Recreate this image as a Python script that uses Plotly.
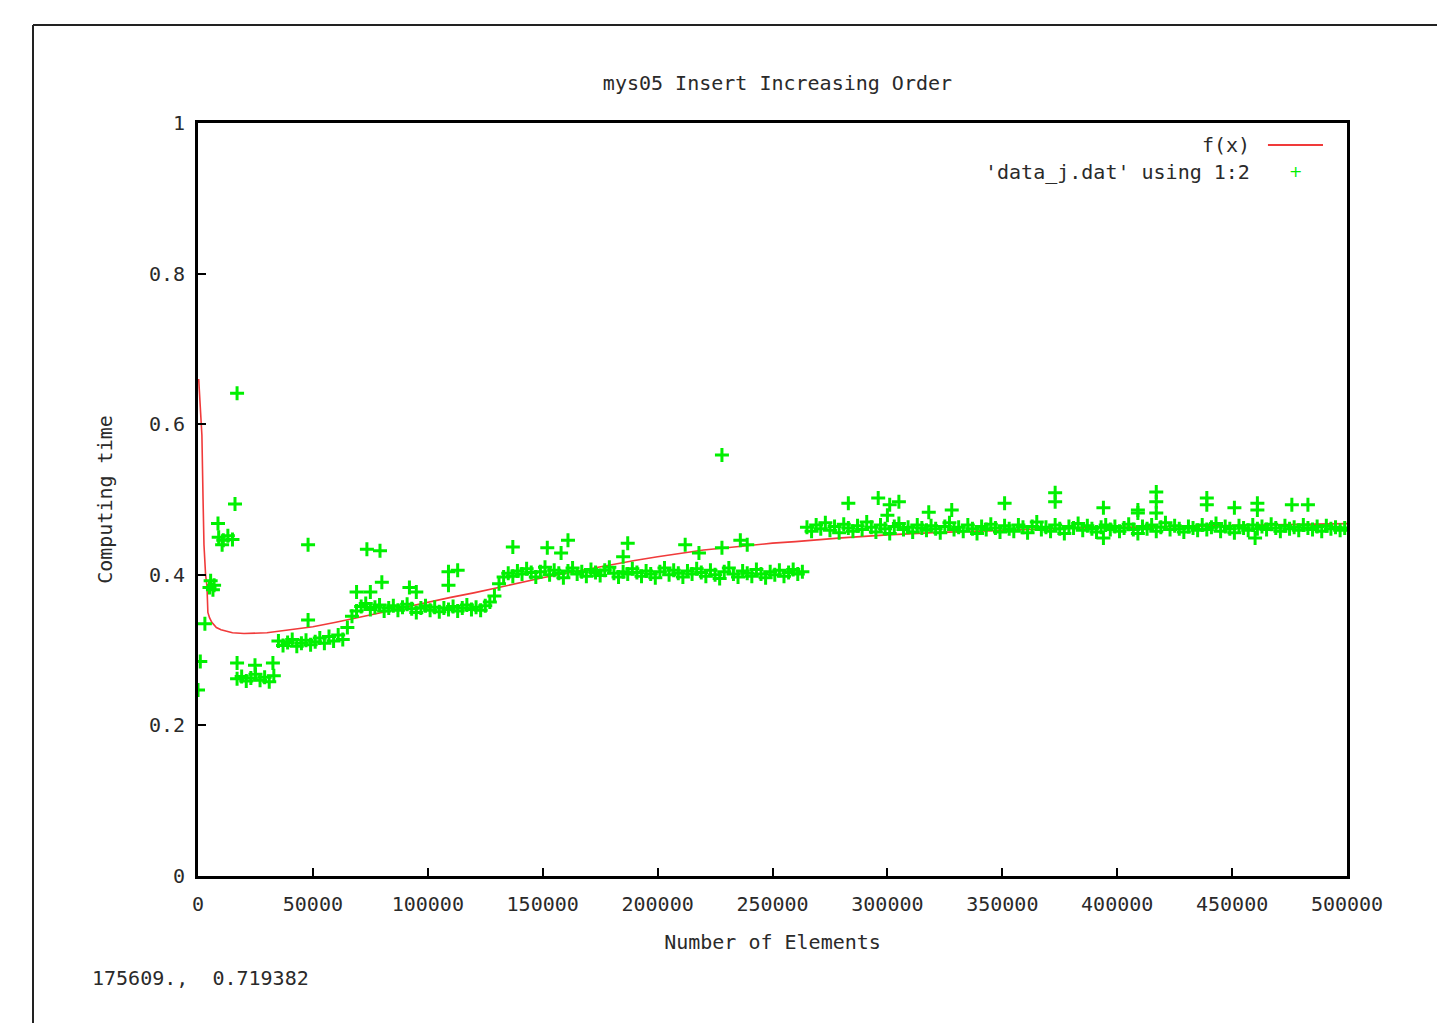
import plotly.graph_objects as go

# ---------------- data ----------------
# fitted curve f(x)
fx_x = [300, 900, 1700, 2200, 2600, 3300, 3900, 4300, 5000, 6000, 8000, 10000, 15000, 20000,
        30000, 40000, 50000, 60000, 70000, 80000, 90000, 100000, 110000, 120000, 130000,
        140000, 150000, 160000, 170000, 180000, 190000, 200000, 210000, 220000, 230000,
        240000, 250000, 260000, 280000, 300000, 320000, 340000, 360000, 380000, 400000,
        420000, 440000, 460000, 480000, 500000]
fx_y = [0.66, 0.62, 0.585, 0.50, 0.44, 0.40, 0.385, 0.350, 0.343, 0.337, 0.330, 0.327, 0.323, 0.322,
        0.323, 0.327, 0.331, 0.337, 0.343, 0.350, 0.357, 0.364, 0.370, 0.376, 0.383,
        0.389, 0.396, 0.402, 0.408, 0.414, 0.419, 0.424, 0.429, 0.433, 0.436,
        0.439, 0.442, 0.444, 0.449, 0.453, 0.456, 0.458, 0.460, 0.462, 0.463,
        0.464, 0.465, 0.466, 0.467, 0.468]

# measured computing times, one every 2000 elements starting at 1000
x_start = 1000
x_step = 2000
times = [
    0.285, 0.335, 0.383,
    0.386,
    0.450, 0.446, 0.452, 0.447,
    0.262, 0.265, 0.259, 0.263, 0.268, 0.260, 0.264, 0.258, 0.266,
    0.312, 0.306, 0.310, 0.314, 0.305, 0.309, 0.313, 0.307, 0.311, 0.316, 0.309, 0.318, 0.312, 0.320, 0.314,
    0.330, 0.345, 0.352,
    0.358, 0.362, 0.354, 0.357, 0.360, 0.352, 0.356, 0.359, 0.353, 0.357,
    0.361, 0.355, 0.350, 0.356, 0.359, 0.353, 0.357, 0.351, 0.356, 0.354,
    0.358, 0.352, 0.356, 0.360, 0.354, 0.357, 0.353, 0.359, 0.364,
    0.372, 0.388, 0.397,
    0.402, 0.398, 0.405, 0.401, 0.408, 0.403, 0.397, 0.404, 0.410, 0.400,
    0.406, 0.402, 0.396, 0.405, 0.409, 0.401, 0.404, 0.398, 0.407, 0.403,
    0.399, 0.406, 0.410, 0.402, 0.397, 0.404, 0.401, 0.408, 0.403, 0.398,
    0.405, 0.401, 0.396, 0.404, 0.409, 0.400, 0.406, 0.402, 0.397, 0.405,
    0.401, 0.408, 0.403, 0.398, 0.406, 0.400, 0.395, 0.404, 0.409, 0.401,
    0.397, 0.405, 0.402, 0.398, 0.407, 0.401, 0.396, 0.404, 0.400, 0.406,
    0.398, 0.403, 0.407, 0.401, 0.404,
    0.463, 0.458, 0.466, 0.461, 0.469, 0.459, 0.464, 0.456, 0.467, 0.462,
    0.458, 0.465, 0.460, 0.470, 0.463, 0.457, 0.466, 0.461, 0.455, 0.464,
    0.468, 0.460, 0.463, 0.457, 0.466, 0.462, 0.459, 0.465, 0.461, 0.456,
    0.464, 0.469, 0.460, 0.463, 0.458, 0.466, 0.461, 0.455, 0.464, 0.460,
    0.467, 0.462, 0.457, 0.465, 0.461, 0.458, 0.466, 0.463, 0.456, 0.464,
    0.470, 0.460, 0.463, 0.458, 0.466, 0.461, 0.455, 0.464, 0.462, 0.468,
    0.459, 0.465, 0.461, 0.457, 0.463, 0.466, 0.460, 0.464, 0.458, 0.462,
    0.467, 0.460, 0.455, 0.464, 0.461, 0.466, 0.458, 0.463, 0.469, 0.460,
    0.465, 0.461, 0.457, 0.464, 0.462, 0.459, 0.466, 0.460, 0.463, 0.468,
    0.458, 0.464, 0.461, 0.456, 0.465, 0.462, 0.459, 0.466, 0.461, 0.464,
    0.460, 0.467, 0.462, 0.458, 0.465, 0.461, 0.463, 0.459, 0.466, 0.462,
    0.460, 0.464, 0.458, 0.465, 0.461, 0.463, 0.459, 0.462,
]

# additional (off-band) measurements
extra_x = [0, 5500, 6500, 8700, 10500, 16100, 17000, 17000, 24800, 32600,
           47900, 47900, 73500, 79200, 69000, 75000, 80000, 92000, 95000,
           109000, 113000, 109000, 137000, 152000, 161000, 158000, 187000, 185000,
           212000, 218000, 228000, 228000, 236000, 239000,
           283000, 296000, 301000, 305000, 300000, 318000, 328000, 351000,
           373000, 373000, 394000, 409000, 409000, 417000, 417000, 417000,
           439000, 439000, 451000, 461000, 461000, 476000, 483000, 394000, 460000]
extra_y = [0.247, 0.392, 0.380, 0.468, 0.440, 0.494, 0.641, 0.283, 0.280, 0.283,
           0.440, 0.340, 0.434, 0.432, 0.377, 0.377, 0.390, 0.383, 0.377,
           0.404, 0.406, 0.386, 0.437, 0.436, 0.446, 0.429, 0.442, 0.424,
           0.440, 0.429, 0.559, 0.436, 0.446, 0.440,
           0.495, 0.502, 0.493, 0.497, 0.479, 0.483, 0.486, 0.495,
           0.509, 0.497, 0.489, 0.486, 0.482, 0.510, 0.497, 0.482,
           0.502, 0.493, 0.489, 0.495, 0.486, 0.493, 0.493, 0.449, 0.449]

x_ticks = [0, 50000, 100000, 150000, 200000, 250000, 300000, 350000, 400000, 450000, 500000]
y_ticks = [0, 0.2, 0.4, 0.6, 0.8, 1]

# ---------------- figure ----------------
data_x = [x_start + x_step * i for i in range(len(times))] + extra_x
data_y = times + extra_y

FONT = "DejaVu Sans Mono"
FS = 20
RED = "#f03a3a"
GREEN = "#00f000"
TXT = "#2a2a2a"

fig = go.Figure()
fig.add_trace(go.Scatter(x=fx_x, y=fx_y, mode="lines", name="f(x)",
                         line=dict(color=RED, width=1.6), showlegend=False))
fig.add_trace(go.Scatter(x=data_x, y=data_y, mode="markers", name="'data_j.dat' using 1:2",
                         marker=dict(symbol="cross-thin", size=10,
                                     line=dict(color=GREEN, width=3), color=GREEN),
                         showlegend=False))

axis_common = dict(showline=True, linecolor="black", linewidth=3, mirror=True,
                   ticks="inside", ticklen=8, tickwidth=2, tickcolor="black",
                   showgrid=False, zeroline=False,
                   tickfont=dict(family=FONT, size=FS, color=TXT))

fig.update_xaxes(range=[0, 500000], tickvals=x_ticks, ticktext=[str(v) for v in x_ticks],
                 ticklabelstandoff=8,
                 title=dict(text="Number of Elements", font=dict(family=FONT, size=FS, color=TXT),
                            standoff=20),
                 **axis_common)
fig.update_yaxes(range=[0, 1], tickvals=y_ticks, ticktext=[("%g" % v) for v in y_ticks],
                 ticklabelstandoff=6,
                 title=dict(text="Computing time", font=dict(family=FONT, size=FS, color=TXT),
                            standoff=31),
                 **axis_common)

fig.update_layout(
    width=1445, height=1023,
    margin=dict(l=190, r=106, t=115, b=155),
    paper_bgcolor="white", plot_bgcolor="white",
    title=dict(text="mys05 Insert Increasing Order", x=0.5325, xanchor="center",
               y=0.927, yanchor="middle", font=dict(family=FONT, size=FS, color=TXT)),
)

# legend drawn gnuplot-style (text right-aligned, sample on the right)
fig.add_annotation(xref="paper", yref="paper", x=0.9173, y=0.9708, xanchor="right", yanchor="middle",
                   text="f(x)", showarrow=False, font=dict(family=FONT, size=FS, color=TXT))
fig.add_annotation(xref="paper", yref="paper", x=0.9173, y=0.935, xanchor="right", yanchor="middle",
                   text="'data_j.dat' using 1:2", showarrow=False,
                   font=dict(family=FONT, size=FS, color=TXT))
fig.add_shape(type="line", xref="paper", yref="paper", x0=0.9312, x1=0.9791, y0=0.9708, y1=0.9708,
              line=dict(color=RED, width=2))
fig.add_annotation(xref="paper", yref="paper", x=0.9556, y=0.935, xanchor="center", yanchor="middle",
                   text="+", showarrow=False, font=dict(family="DejaVu Sans", size=16, color=GREEN))

# status line with mouse coordinates
fig.add_annotation(xref="paper", yref="paper", x=-0.094, y=-0.1355, xanchor="left", yanchor="middle",
                   text="175609.,  0.719382", showarrow=False,
                   font=dict(family=FONT, size=FS, color=TXT))

# window edge clipping the last tick label (blank annotation box drawn on top)
fig.add_annotation(xref="paper", yref="paper", x=1.0336, y=-0.036, xanchor="left", yanchor="middle",
                   text=" ", showarrow=False, width=70, height=34, bgcolor="white",
                   borderpad=0, borderwidth=0)

# outer window frame
fig.add_shape(type="line", xref="paper", yref="paper", x0=-0.1436, x1=1.09, y0=1.1301, y1=1.1301,
              line=dict(color="#222", width=2))
fig.add_shape(type="line", xref="paper", yref="paper", x0=-0.1436, x1=-0.1436, y0=1.1301, y1=-0.2,
              line=dict(color="#222", width=2))

fig.write_html("out.html")
